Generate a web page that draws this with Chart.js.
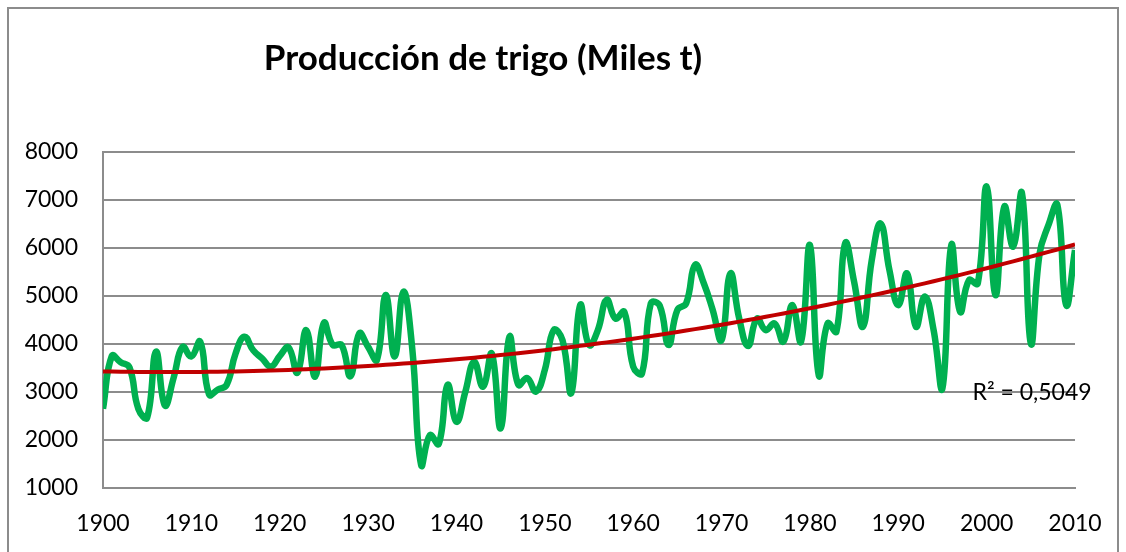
<!DOCTYPE html>
<html lang="es">

<head>
  <meta charset="utf-8">
  <title>Producción de trigo</title>
  <script src="https://cdn.jsdelivr.net/npm/chart.js@4.4.0/dist/chart.umd.min.js"></script>
  <style>
    body { margin: 0; background: #fff; }
  </style>
</head>

<body>
  <canvas id="chart" width="1126" height="552"></canvas>
  <script>
    // years on the x axis
    const years = [
      1900, 1901, 1902, 1903, 1904, 1905, 1906, 1907, 1908, 1909,
      1910, 1911, 1912, 1913, 1914, 1915, 1916, 1917, 1918, 1919,
      1920, 1921, 1922, 1923, 1924, 1925, 1926, 1927, 1928, 1929,
      1930, 1931, 1932, 1933, 1934, 1935, 1936, 1937, 1938, 1939,
      1940, 1941, 1942, 1943, 1944, 1945, 1946, 1947, 1948, 1949,
      1950, 1951, 1952, 1953, 1954, 1955, 1956, 1957, 1958, 1959,
      1960, 1961, 1962, 1963, 1964, 1965, 1966, 1967, 1968, 1969,
      1970, 1971, 1972, 1973, 1974, 1975, 1976, 1977, 1978, 1979,
      1980, 1981, 1982, 1983, 1984, 1985, 1986, 1987, 1988, 1989,
      1990, 1991, 1992, 1993, 1994, 1995, 1996, 1997, 1998, 1999,
      2000, 2001, 2002, 2003, 2004, 2005, 2006, 2007, 2008, 2009,
      2010
    ];

    // wheat production, thousand tonnes
    const production = [
      2650, 3750, 3620, 3510, 2650, 2470, 3840, 2720, 3300, 3940,
      3740, 4050, 2950, 3050, 3150, 3800, 4150, 3870, 3700, 3530,
      3750, 3930, 3400, 4290, 3320, 4440, 3980, 3980, 3330, 4220,
      3940, 3670, 5020, 3740, 5090, 3900, 1480, 2100, 1920, 3150,
      2380, 3000, 3630, 3110, 3800, 2240, 4150, 3150, 3290, 3010,
      3460, 4290, 4080, 2980, 4810, 3980, 4290, 4920, 4530, 4670,
      3530, 3390, 4850, 4800, 3980, 4710, 4850, 5650, 5260, 4710,
      4080, 5470, 4530, 3960, 4530, 4290, 4430, 4050, 4810, 4050,
      6060, 3350, 4430, 4260, 6100, 5300, 4360, 5750, 6510, 5540,
      4810, 5470, 4360, 4990, 4290, 3080, 6060, 4670, 5330, 5260,
      7280, 5020, 6860, 6030, 7140, 4010, 5890, 6480, 6900, 4810,
      5960
    ];

    const yTicks = [1000, 2000, 3000, 4000, 5000, 6000, 7000, 8000];
    const xTicks = [1900, 1910, 1920, 1930, 1940, 1950, 1960, 1970, 1980, 1990, 2000, 2010];
    const title = 'Producción de trigo (Miles t)';
    const r2Label = 'R² = 0,5049';

    const FONT = 'Lato, Calibri, Carlito, sans-serif';

    // 2nd order polynomial trend, least squares on the data
    function polyFit(xs, ys) {
      const n = xs.length;
      let s = [0, 0, 0, 0, 0], t = [0, 0, 0];
      for (let i = 0; i < n; i++) {
        const x = xs[i] - xs[0];
        let p = 1;
        for (let k = 0; k < 5; k++) { s[k] += p; if (k < 3) t[k] += p * ys[i]; p *= x; }
      }
      // solve 3x3 system
      const m = [
        [s[0], s[1], s[2], t[0]],
        [s[1], s[2], s[3], t[1]],
        [s[2], s[3], s[4], t[2]]
      ];
      for (let i = 0; i < 3; i++) {
        for (let j = i + 1; j < 3; j++) {
          const f = m[j][i] / m[i][i];
          for (let k = i; k < 4; k++) m[j][k] -= f * m[i][k];
        }
      }
      const c = [0, 0, 0];
      for (let i = 2; i >= 0; i--) {
        let v = m[i][3];
        for (let k = i + 1; k < 3; k++) v -= m[i][k] * c[k];
        c[i] = v / m[i][i];
      }
      return xs.map(x => {
        const d = x - xs[0];
        return c[0] + c[1] * d + c[2] * d * d;
      });
    }

    const trend = polyFit(years, production);

    const framePlugin = {
      id: 'frame',
      beforeDraw(chart) {
        const ctx = chart.ctx;
        ctx.save();
        ctx.fillStyle = '#fff';
        ctx.fillRect(0, 0, chart.width, chart.height);
        ctx.strokeStyle = '#8c8c8c';
        ctx.lineWidth = 2;
        ctx.strokeRect(8, 8, 1110, 600);
        ctx.restore();
      },
      afterDraw(chart) {
        const ctx = chart.ctx;
        const x = chart.scales.x, y = chart.scales.y;
        ctx.save();
        ctx.fillStyle = '#000';
        ctx.font = 'bold 35px ' + FONT;
        ctx.textAlign = 'center';
        ctx.textBaseline = 'alphabetic';
        ctx.fillText(title, 483, 70);
        ctx.font = '23px ' + FONT;
        ctx.textAlign = 'left';
        ctx.fillText(r2Label, x.getPixelForValue(1998.4), y.getPixelForValue(2830));
        ctx.restore();
      }
    };

    const ctx = document.getElementById('chart').getContext('2d');
    const myChart = new Chart(ctx, {
      type: 'line',
      data: {
        datasets: [{
          label: 'Tendencia',
          data: years.map((yr, i) => ({ x: yr, y: trend[i] })),
          borderColor: '#c00000',
          borderWidth: 4,
          pointRadius: 0,
          tension: 0,
          fill: false,
          order: 0
        }, {
          label: 'Producción',
          data: years.map((yr, i) => ({ x: yr, y: production[i] })),
          borderColor: '#00b050',
          borderWidth: 6.5,
          pointRadius: 0,
          tension: 0.45,
          fill: false,
          order: 1
        }]
      },
      options: {
        responsive: false,
        animation: false,
        layout: {
          padding: { top: 152, left: 0, right: 51, bottom: 0 }
        },
        plugins: {
          legend: { display: false },
          tooltip: { enabled: false }
        },
        scales: {
          x: {
            type: 'linear',
            min: 1900,
            max: 2010,
            afterBuildTicks: axis => { axis.ticks = xTicks.map(v => ({ value: v })); },
            afterFit: axis => { axis.height = 64; },
            ticks: {
              callback: v => String(v),
              color: '#000',
              font: { family: FONT, size: 23 },
              padding: 22,
              maxRotation: 0,
              autoSkip: false
            },
            grid: { display: false, drawTicks: false },
            border: { display: true, color: '#8c8c8c', width: 2 }
          },
          y: {
            min: 1000,
            max: 8000,
            afterBuildTicks: axis => { axis.ticks = yTicks.map(v => ({ value: v })); },
            afterFit: axis => { axis.width = 103; },
            ticks: {
              callback: v => String(v),
              color: '#000',
              font: { family: FONT, size: 23 },
              padding: 25
            },
            grid: { color: '#8c8c8c', lineWidth: 2, drawTicks: false },
            border: { display: true, color: '#8c8c8c', width: 2 }
          }
        }
      },
      plugins: [framePlugin]
    });
  </script>

</body>

</html>
